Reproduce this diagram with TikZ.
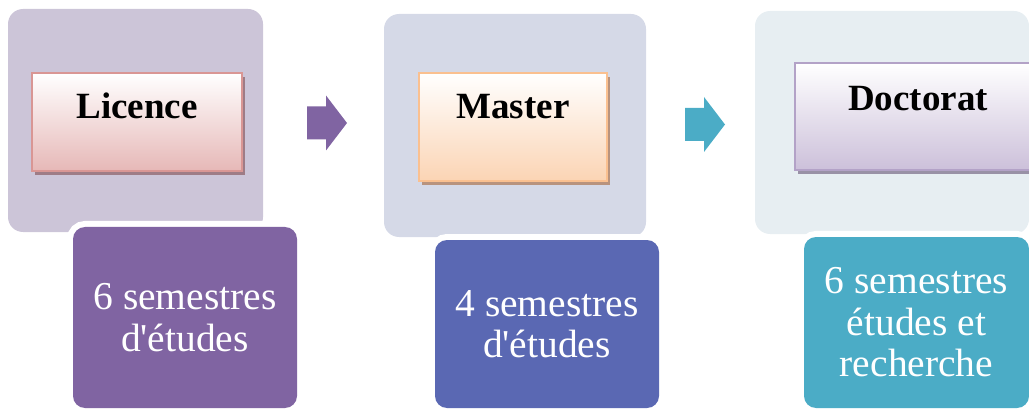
\documentclass[tikz,border=0pt]{standalone}
\usepackage{fontspec}
\setmainfont{Liberation Serif}[Ligatures=TeXOff]
\usetikzlibrary{shadows}

% group colours
\definecolor{licBack}{HTML}{CCC5D8}
\definecolor{licEdge}{HTML}{D99694}
\definecolor{licShade}{HTML}{E6B8B7}
\definecolor{licShadow}{HTML}{9E7C86}
\definecolor{licInfo}{HTML}{8064A2}
\definecolor{mstBack}{HTML}{D5D9E7}
\definecolor{mstEdge}{HTML}{FAC090}
\definecolor{mstShade}{HTML}{FBD4B4}
\definecolor{mstShadow}{HTML}{B8937E}
\definecolor{mstInfo}{HTML}{5A68B3}
\definecolor{docBack}{HTML}{E7EEF2}
\definecolor{docEdge}{HTML}{B3A2C7}
\definecolor{docShade}{HTML}{CCC0DA}
\definecolor{docShadow}{HTML}{9991A6}
\definecolor{docInfo}{HTML}{4BACC6}

\tikzset{
  backbox/.style={rectangle, rounded corners=15pt, fill=#1, inner sep=0pt, outer sep=0pt},
  titlebox/.style n args={3}{rectangle, draw=#1, line width=2pt, top color=white, bottom color=#2,
    inner sep=0pt, outer sep=0pt,
    drop shadow={shadow xshift=3pt, shadow yshift=-4pt, fill=#3, opacity=1}},
  titletext/.style={anchor=base, inner sep=0pt, font=\bfseries\fontsize{37}{40}\selectfont},
  infobox/.style={rectangle, rounded corners=12pt, fill=#1, inner sep=0pt, outer sep=0pt,
    preaction={draw=white, line width=12pt},
    text=white, align=center, font=\fontsize{39.5}{41.5}\selectfont},
  pics/blockarrow/.style={code={
    \fill[#1] (0,-16.5) -- (19,-16.5) -- (19,-27.5) -- (40,0) -- (19,27.5) -- (19,16.5) -- (0,16.5) -- cycle;
  }}
}

\begin{document}
\begin{tikzpicture}[x=1pt, y=-1pt]
  \useasboundingbox (0,0) rectangle (1029,409);
  \clip (0,0) rectangle (1029,409);

  % Licence
  \node[backbox=licBack, minimum width=255pt, minimum height=223pt] (licB) at (135.5,120.5) {};
  \node[titlebox={licEdge}{licShade}{licShadow}, minimum width=210pt, minimum height=98pt] (licH) at (137,122) {};
  \node[titletext] (licT) at (137,119) {Licence};
  \node[infobox=licInfo, minimum width=224pt, minimum height=181pt] (licI) at (185,317.5)
    {6 semestres\\d'études};

  % Master
  \node[backbox=mstBack, minimum width=262pt, minimum height=223pt] (mstB) at (515,125.5) {};
  \node[titlebox={mstEdge}{mstShade}{mstShadow}, minimum width=188pt, minimum height=108pt] (mstH) at (513,127) {};
  \node[titletext] (mstT) at (513,119) {Master};
  \node[infobox=mstInfo, minimum width=224pt, minimum height=168pt] (mstI) at (547,324)
    {4 semestres\\d'études};

  % Doctorat
  \node[backbox=docBack, minimum width=274pt, minimum height=223pt] (docB) at (892,122.5) {};
  \node[titlebox={docEdge}{docShade}{docShadow}, minimum width=246pt, minimum height=107pt] (docH) at (918,116.5) {};
  \node[titletext] (docT) at (918,111) {Doctorat};
  \node[infobox=docInfo, minimum width=225pt, minimum height=171pt] (docI) at (916.5,322.5)
    {6 semestres\\études et\\recherche};

  % block arrows between the stages
  \coordinate (arrA) at (307,123);
  \coordinate (arrB) at (685,124.5);
  \pic at (arrA) {blockarrow=licInfo};
  \pic at (arrB) {blockarrow=docInfo};
\end{tikzpicture}
\end{document}
